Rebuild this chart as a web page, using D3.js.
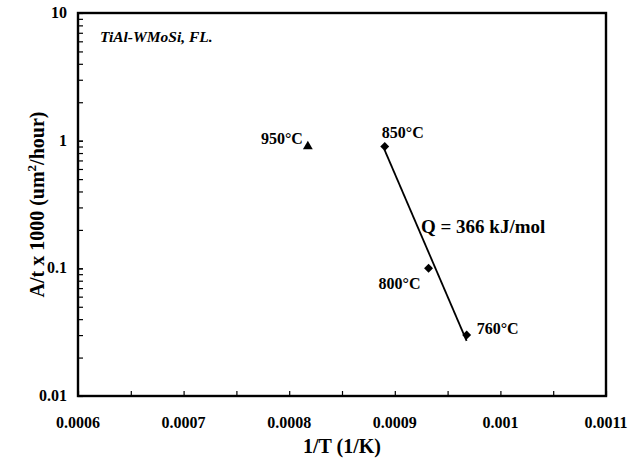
<!DOCTYPE html>
<html><head><meta charset="utf-8">
<script src="https://cdn.jsdelivr.net/npm/d3@7"></script>
<style>body{margin:0;background:#fff}svg{display:block}text{font-family:"Liberation Serif","Times New Roman",serif;font-weight:bold;fill:#000}</style>
</head><body><svg id="c" width="629" height="459"></svg>
<script>
// data
const triX = [1/1223];           // 950°C
const triY = [0.9];
const diaX = [1/1123, 1/1073, 1/1033]; // 850, 800, 760 °C
const diaY = [0.9, 0.1, 0.03];
const ptLabels = ["950°C", "850°C", "800°C", "760°C"];
const fitX = [0.000890, 0.000968];
const fitY = [0.86, 0.027];
const xTicks = [0.0006, 0.0007, 0.0008, 0.0009, 0.001, 0.0011];
const xTickLabels = ["0.0006", "0.0007", "0.0008", "0.0009", "0.001", "0.0011"];
const yTicks = [0.01, 0.1, 1, 10];
const yTickLabels = ["0.01", "0.1", "1", "10"];

const svg = d3.select("#c");
const L = 78, R = 606, T = 13, B = 396;
const x = d3.scaleLinear().domain([0.0006, 0.0011]).range([L, R]);
const y = d3.scaleLog().domain([0.01, 10]).range([B, T]);

// minor x ticks (inward)
const xMinor = d3.range(0, 11).map(i => 0.0006 + i * 0.00005);
svg.append("g").attr("transform", `translate(0,${B})`)
  .call(d3.axisBottom(x).tickValues(xMinor).tickSize(-5).tickFormat(""))
  .call(g => g.select(".domain").remove())
  .call(g => g.selectAll("line").attr("stroke", "#000").attr("stroke-width", 1.2));
// y minor log ticks (inward)
const yMinor = [];
[0.01, 0.1, 1].forEach(d => { for (let k = 1; k <= 10; k++) yMinor.push(d * k); });
svg.append("g").attr("transform", `translate(${L},0)`)
  .call(d3.axisLeft(y).tickValues(yMinor).tickSize(-5).tickFormat(""))
  .call(g => g.select(".domain").remove())
  .call(g => g.selectAll("line").attr("stroke", "#000").attr("stroke-width", 1.2));

// frame
svg.append("rect").attr("x", L).attr("y", T).attr("width", R - L).attr("height", B - T)
  .attr("fill", "none").attr("stroke", "#000").attr("stroke-width", 2.4);

// tick labels
svg.selectAll(".xl").data(xTicks).enter().append("text")
  .attr("x", d => x(d)).attr("y", 428).attr("text-anchor", "middle")
  .attr("font-size", 16).text((d, i) => xTickLabels[i]);
svg.selectAll(".yl").data(yTicks).enter().append("text")
  .attr("x", 67).attr("y", d => y(d) + 5).attr("text-anchor", "end")
  .attr("font-size", 16).text((d, i) => yTickLabels[i]);

// axis titles
svg.append("text").attr("x", 342).attr("y", 453).attr("text-anchor", "middle")
  .attr("font-size", 20).text("1/T (1/K)");
const yt = svg.append("text").attr("transform", `translate(44,${(T + B) / 2}) rotate(-90)`)
  .attr("text-anchor", "middle").attr("font-size", 20);
yt.append("tspan").text("A/t x 1000 (um");
yt.append("tspan").attr("font-size", 13).attr("dy", -8).text("2");
yt.append("tspan").attr("dy", 8).text("/hour)");

// fit line
svg.append("path").attr("d", d3.line().x(d => x(d[0])).y(d => y(d[1]))(fitX.map((v, i) => [v, fitY[i]])))
  .attr("stroke", "#000").attr("stroke-width", 1.8).attr("fill", "none");

// markers
svg.selectAll(".tri").data(triX).enter().append("path")
  .attr("transform", (d, i) => `translate(${x(d)},${y(triY[i])})`)
  .attr("d", d3.symbol(d3.symbolTriangle, 42)());
svg.selectAll(".dia").data(diaX).enter().append("path")
  .attr("transform", (d, i) => `translate(${x(d)},${y(diaY[i])}) rotate(45)`)
  .attr("d", d3.symbol(d3.symbolSquare, 40)());

// point labels
const lab = [
  { t: ptLabels[0], dx: -5, dy: -3, a: "end" },
  { t: ptLabels[1], dx: -3, dy: -9, a: "start" },
  { t: ptLabels[2], dx: -8, dy: 21, a: "end" },
  { t: ptLabels[3], dx: 10, dy: -1, a: "start" }
];
const pts = [[triX[0], triY[0]], [diaX[0], diaY[0]], [diaX[1], diaY[1]], [diaX[2], diaY[2]]];
pts.forEach((p, i) => {
  svg.append("text").attr("x", x(p[0]) + lab[i].dx).attr("y", y(p[1]) + lab[i].dy)
    .attr("text-anchor", lab[i].a).attr("font-size", 16).text(lab[i].t);
});

svg.append("text").attr("x", 421).attr("y", 233).attr("font-size", 19).text("Q = 366 kJ/mol");
svg.append("text").attr("x", 100).attr("y", 42).attr("font-size", 15.5).attr("font-style", "italic").text("TiAl-WMoSi, FL.");
</script></body></html>
